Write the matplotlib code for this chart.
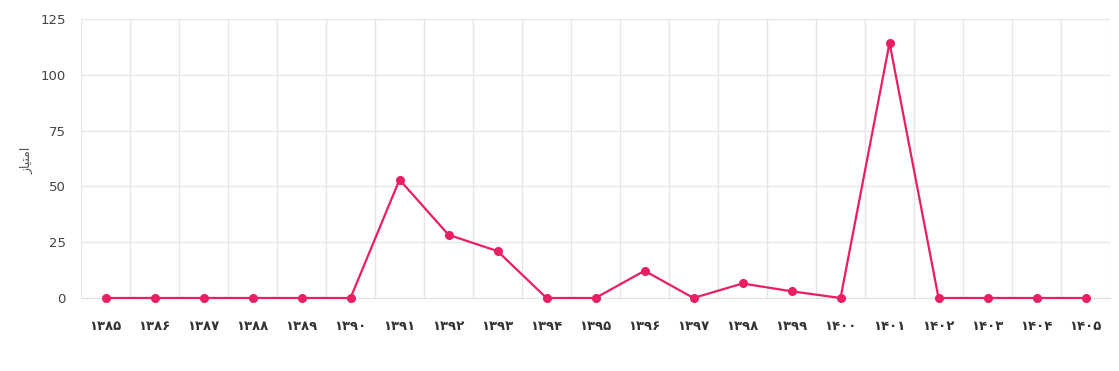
import matplotlib as mpl
mpl.use('Agg')
import matplotlib.pyplot as plt

years = ['۱۳۸۵', '۱۳۸۶', '۱۳۸۷', '۱۳۸۸', '۱۳۸۹', '۱۳۹۰', '۱۳۹۱', '۱۳۹۲', '۱۳۹۳', '۱۳۹۴', '۱۳۹۵',
         '۱۳۹۶', '۱۳۹۷', '۱۳۹۸', '۱۳۹۹', '۱۴۰۰', '۱۴۰۱', '۱۴۰۲', '۱۴۰۳', '۱۴۰۴', '۱۴۰۵']
scores = [0, 0, 0, 0, 0, 0, 53, 28.3, 21, 0, 0, 12.2, 0, 6.5, 3, 0, 114.3, 0, 0, 0, 0]
yticks = [0, 25, 50, 75, 100, 125]
# "امتیاز" written with joined presentation forms in visual order
ylabel = '\uFEAF\uFE8E\uFEF4\uFE98\uFEE3\uFE8D'

plt.rcParams['font.family'] = ['DejaVu Sans']

fig = plt.figure(figsize=(11.19, 3.71), dpi=100)
ax = fig.add_axes([0.0724, 0.1968, 0.9196, 0.752])

x = list(range(len(years)))
ax.plot(x, scores, color='#e91e63', lw=1.6, marker='o', ms=5.5, zorder=3, clip_on=False)

ax.set_xlim(-0.5, len(years) - 0.5)
ax.set_ylim(0, 125)
ax.set_yticks(yticks)
ax.set_yticklabels([str(v) for v in yticks], color='#444444', fontsize=9.5)
ax.set_xticks(x)
ax.set_xticklabels(years, color='#333333', fontsize=9.5, fontweight='bold')
ax.set_xticks([i - 0.5 for i in range(len(years) + 1)], minor=True)
ax.tick_params(axis='both', which='both', length=0)
ax.tick_params(axis='y', pad=11)
ax.tick_params(axis='x', pad=16)

ax.grid(True, axis='y', color='#e6e6e6', lw=1)
ax.grid(True, axis='x', which='minor', color='#e6e6e6', lw=1)
ax.grid(False, axis='x', which='major')
ax.set_axisbelow(True)
for s in ['top', 'right', 'left']:
    ax.spines[s].set_visible(False)
ax.spines['bottom'].set_color('#e0e0e0')

fig.text(27 / 1119, 1 - 160 / 371, ylabel, rotation=90, ha='center', va='center',
         color='#555555', fontsize=9)

plt.savefig('out.png', dpi=100)
